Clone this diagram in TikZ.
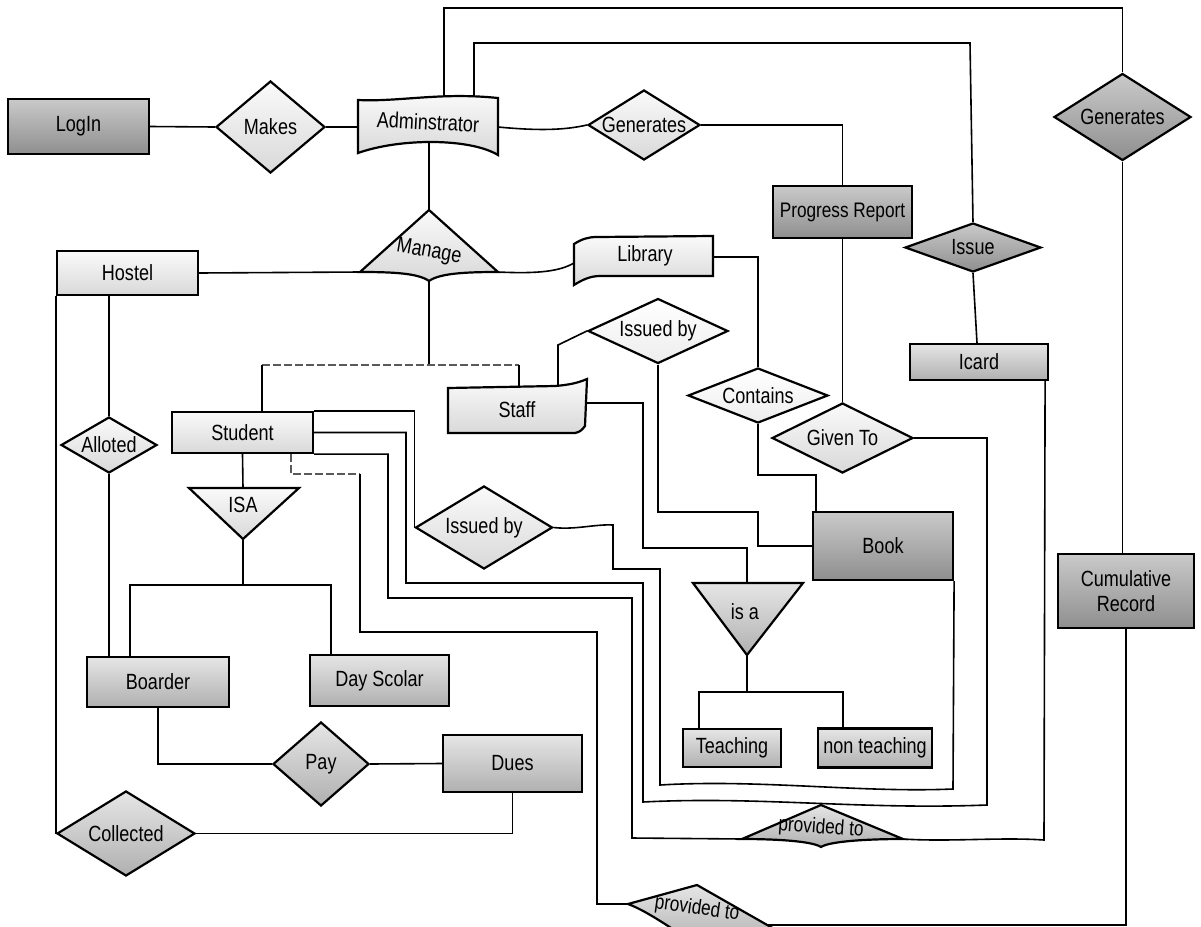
\documentclass[tikz,border=0pt]{standalone}
\usepackage{fontspec}
\setmainfont{Liberation Sans}[FakeStretch=0.82]
\usetikzlibrary{shapes.geometric}

\begin{document}
\begin{tikzpicture}[x=0.5pt,y=-0.5pt,line width=0.8pt,font=\fontsize{11}{12.5}\selectfont,
  border/.style={draw,line width=1.1pt},
  entity/.style={border,rectangle,inner sep=1pt},
  relation/.style={border,diamond,aspect=1.6,inner sep=0pt},
  palefill/.style={top color=white,bottom color=gray!14},
  litefill/.style={top color=gray!4,bottom color=gray!30},
  midfill/.style={top color=gray!20,bottom color=gray!62},
  darkfill/.style={top color=gray!42,bottom color=gray!88},
  faint/.style={draw=black!65,line width=0.6pt,dash pattern=on 4pt off 1.5pt}]
\useasboundingbox (0,0) rectangle (1201,927);

% entities
\node[entity,darkfill,minimum width=70.5pt,minimum height=27.5pt] (login) at (78.5,126.5) {LogIn};
\node[entity,darkfill,minimum width=69.5pt,minimum height=26pt,font=\fontsize{10.5}{12}\selectfont] (progress) at (842.5,212) {Progress Report};
\node[entity,litefill,minimum width=70.5pt,minimum height=22pt] (hostel) at (127.5,273) {Hostel};
\node[entity,midfill,minimum width=69pt,minimum height=18pt] (icard) at (979,362) {Icard};
\node[entity,litefill,minimum width=70.5pt,minimum height=20.5pt] (student) at (242.5,432.5) {Student};
\node[entity,darkfill,minimum width=70pt,minimum height=34pt] (book) at (883,546) {Book};
\node[entity,darkfill,minimum width=68pt,minimum height=37pt,align=center] (cumul) at (1126,591) {Cumulative\\Record};
\node[entity,midfill,minimum width=71pt,minimum height=25pt] (boarder) at (158,682) {Boarder};
\node[entity,midfill,minimum width=69.5pt,minimum height=25.5pt] (dayscolar) at (379.5,680.5) {Day Scolar};
\node[entity,midfill,minimum width=69.5pt,minimum height=28.5pt] (dues) at (512.5,763.5) {Dues};
\node[entity,midfill,minimum width=49pt,minimum height=19pt] (teaching) at (732,748) {Teaching};
\node[entity,midfill,minimum width=57pt,minimum height=19.5pt] (nonteaching) at (875,748) {non teaching};

% relationships
\node[relation,litefill,minimum width=54.5pt,minimum height=46pt] (makes) at (270.5,127) {Makes};
\node[relation,litefill,minimum width=56pt,minimum height=35pt,inner xsep=-6pt] (genA) at (644,125) {Generates};
\node[relation,darkfill,minimum width=68.5pt,minimum height=43.5pt] (genB) at (1122.5,117) {Generates};
\node[relation,darkfill,minimum width=68pt,minimum height=24.5pt,aspect=2.8] (issue) at (973,247.5) {Issue};
\node[relation,palefill,minimum width=70pt,minimum height=32.5pt,aspect=2.2] (issuedA) at (658,331) {Issued by};
\node[relation,palefill,minimum width=70pt,minimum height=27.5pt,aspect=2.5] (contains) at (758,395.5) {Contains};
\node[relation,litefill,minimum width=70.5pt,minimum height=35pt,aspect=2] (givento) at (842.5,438) {Given To};
\node[relation,litefill,minimum width=48pt,minimum height=28pt,aspect=1.7] (alloted) at (109,445) {Alloted};
\node[relation,litefill,minimum width=68.5pt,minimum height=41.5pt] (issuedB) at (484,527.5) {Issued by};
\node[relation,midfill,minimum width=48pt,minimum height=42pt,aspect=1.2] (pay) at (321,764) {Pay};
\node[relation,midfill,minimum width=69pt,minimum height=42.5pt] (collected) at (126,833.5) {Collected};

% shapes drawn by hand
\draw[border,litefill] (358,100) .. controls (400,102) and (440,92) .. (498,98) -- (498,155)
  .. controls (470,138) and (400,138) .. (358,153) -- cycle;
\node[rotate=-3] (admin) at (428,122) {Adminstrator};
\coordinate (admW) at (358,127);
\coordinate (admE) at (498,127);
\coordinate (admN1) at (444,97);
\coordinate (admN2) at (474,96);
\coordinate (admS) at (429,142);

\draw[border,litefill] (429,210) -- (498,272) .. controls (468,272) and (440,273) .. (429,281)
  .. controls (418,273) and (392,272) .. (360,272) -- cycle;
\node[rotate=-10] (manage) at (429,252) {Manage};
\coordinate (mgN) at (429,210);
\coordinate (mgW) at (360,272);
\coordinate (mgE) at (498,272);
\coordinate (mgS) at (429,281);

\draw[border,litefill] (574,244) .. controls (582,239) and (588,237) .. (597,237) -- (713,236) -- (713,276)
  -- (600,276) .. controls (590,276) and (582,280) .. (574,285) -- cycle;
\node (library) at (645,256) {Library};
\coordinate (libW) at (574,263);
\coordinate (libE) at (713,257);

\draw[border,litefill] (448,388) -- (555,386) .. controls (568,385) and (578,383) .. (587,379) -- (585,426)
  .. controls (582,430) and (580,432) .. (575,433) -- (448,433) -- cycle;
\node (staff) at (517,410) {Staff};
\coordinate (stfN1) at (519,387);
\coordinate (stfN2) at (558,386);
\coordinate (stfE) at (587,403);

\draw[border,litefill] (189,488) -- (299,488) -- (243,539) -- cycle;
\node (isa) at (243,505) {ISA};
\coordinate (isaN) at (243,488);
\coordinate (isaS) at (243,539);

\draw[border,midfill] (693,583) -- (803,583) -- (747,655) -- cycle;
\node (isa2) at (745,612) {is a};
\coordinate (isa2N) at (747,583);
\coordinate (isa2S) at (747,655);

\draw[border,midfill] (742,839) -- (821,805) -- (903,839) .. controls (870,839) and (830,841) .. (821,847)
  .. controls (812,841) and (775,839) .. (742,839) -- cycle;
\node[rotate=-4,font=\fontsize{10.5}{12}\selectfont] (provA) at (821,828) {provided to};
\coordinate (provAW) at (742,839);
\coordinate (provAE) at (903,839);

\draw[border,midfill] (628,904) -- (697,885) -- (776,930) .. controls (740,935) and (715,938) .. (700,946)
  .. controls (680,935) and (650,912) .. (628,904) -- cycle;
\node[rotate=-8,font=\fontsize{10.5}{12}\selectfont] (provB) at (697,909) {provided to};
\coordinate (provBW) at (628,904);
\coordinate (provBE) at (767,925);

% connectors
\draw (login.east) -- (makes.west);
\draw (makes.east) -- (admW);
\draw (admE) .. controls (540,131) and (565,130) .. (genA.west);
\draw (admN1) |- (1122.5,8) -- (genB.north);
\draw (admN2) |- (970,43) -- (issue.north);
\draw (genA.east) -| (progress.north);
\draw (progress.south) -- (givento.north);
\draw (genB.south) -- (genB.south |- cumul.north);
\draw (issue.south) -- ([xshift=-1pt]icard.north);
\draw (admS) -- (mgN);
\draw (mgW) -- (hostel.east);
\draw (mgE) .. controls (540,274) and (560,271) .. (libW);
\draw (libE) -| (contains.north);
\draw (contains.south) |- (816,475) -- (book.north -| 816,0);
\draw (issuedA.west) -- (558,345) -- (stfN2);
\draw (issuedA.south) |- (758,512) |- (book.west);
\draw (stfE) -| (643,548) -| (isa2N);
\draw (mgS) -- (429,365);
\draw[faint] (262,365) -- (519,365);
\draw (student.north -| 262,0) -- (262,365);
\draw (519,365) -- (stfN1);
\draw (hostel.south west) -- (collected.west);
\draw (hostel.south -| alloted.north) -- (alloted.north);
\draw (alloted.south) -- (alloted.south |- boarder.north);
\draw (student.south) -- (isaN);
\draw (isaS) -- (243,585);
\draw (boarder.north -| 130,0) |- (331,585) -- (dayscolar.north -| 331,0);
\draw (boarder.south) |- (pay.west);
\draw (pay.east) -- (dues.west);
\draw (dues.south) |- (collected.east);
\draw (student.north east) -| (issuedB.west);
\draw (student.east) -| (406,583) -| (643,802) .. controls (760,796) and (860,810) .. (987,805) |- (givento.east);
\draw (student.south east) -| (388,598) -| (632,838) -- (provAW);
\draw[faint] (student.south -| 291,0) |- (360,474);
\draw (360,474) |- (597,632) |- (provBW);
\draw (issuedB.east) .. controls (575,530) and (595,524) .. (613,525) |- (660,569) -- (660,785)
  .. controls (760,779) and (860,793) .. (953,789) -- (book.south east);
\draw (isa2S) -- (747,692);
\draw (teaching.north -| 699,0) |- (843,692) -- (nonteaching.north -| 843,0);
\draw ([xshift=-2pt]icard.south east) -- (1044,840) .. controls (1000,837) and (950,842) .. (provAE);
\draw (cumul.south) |- (provBE);
\end{tikzpicture}
\end{document}
